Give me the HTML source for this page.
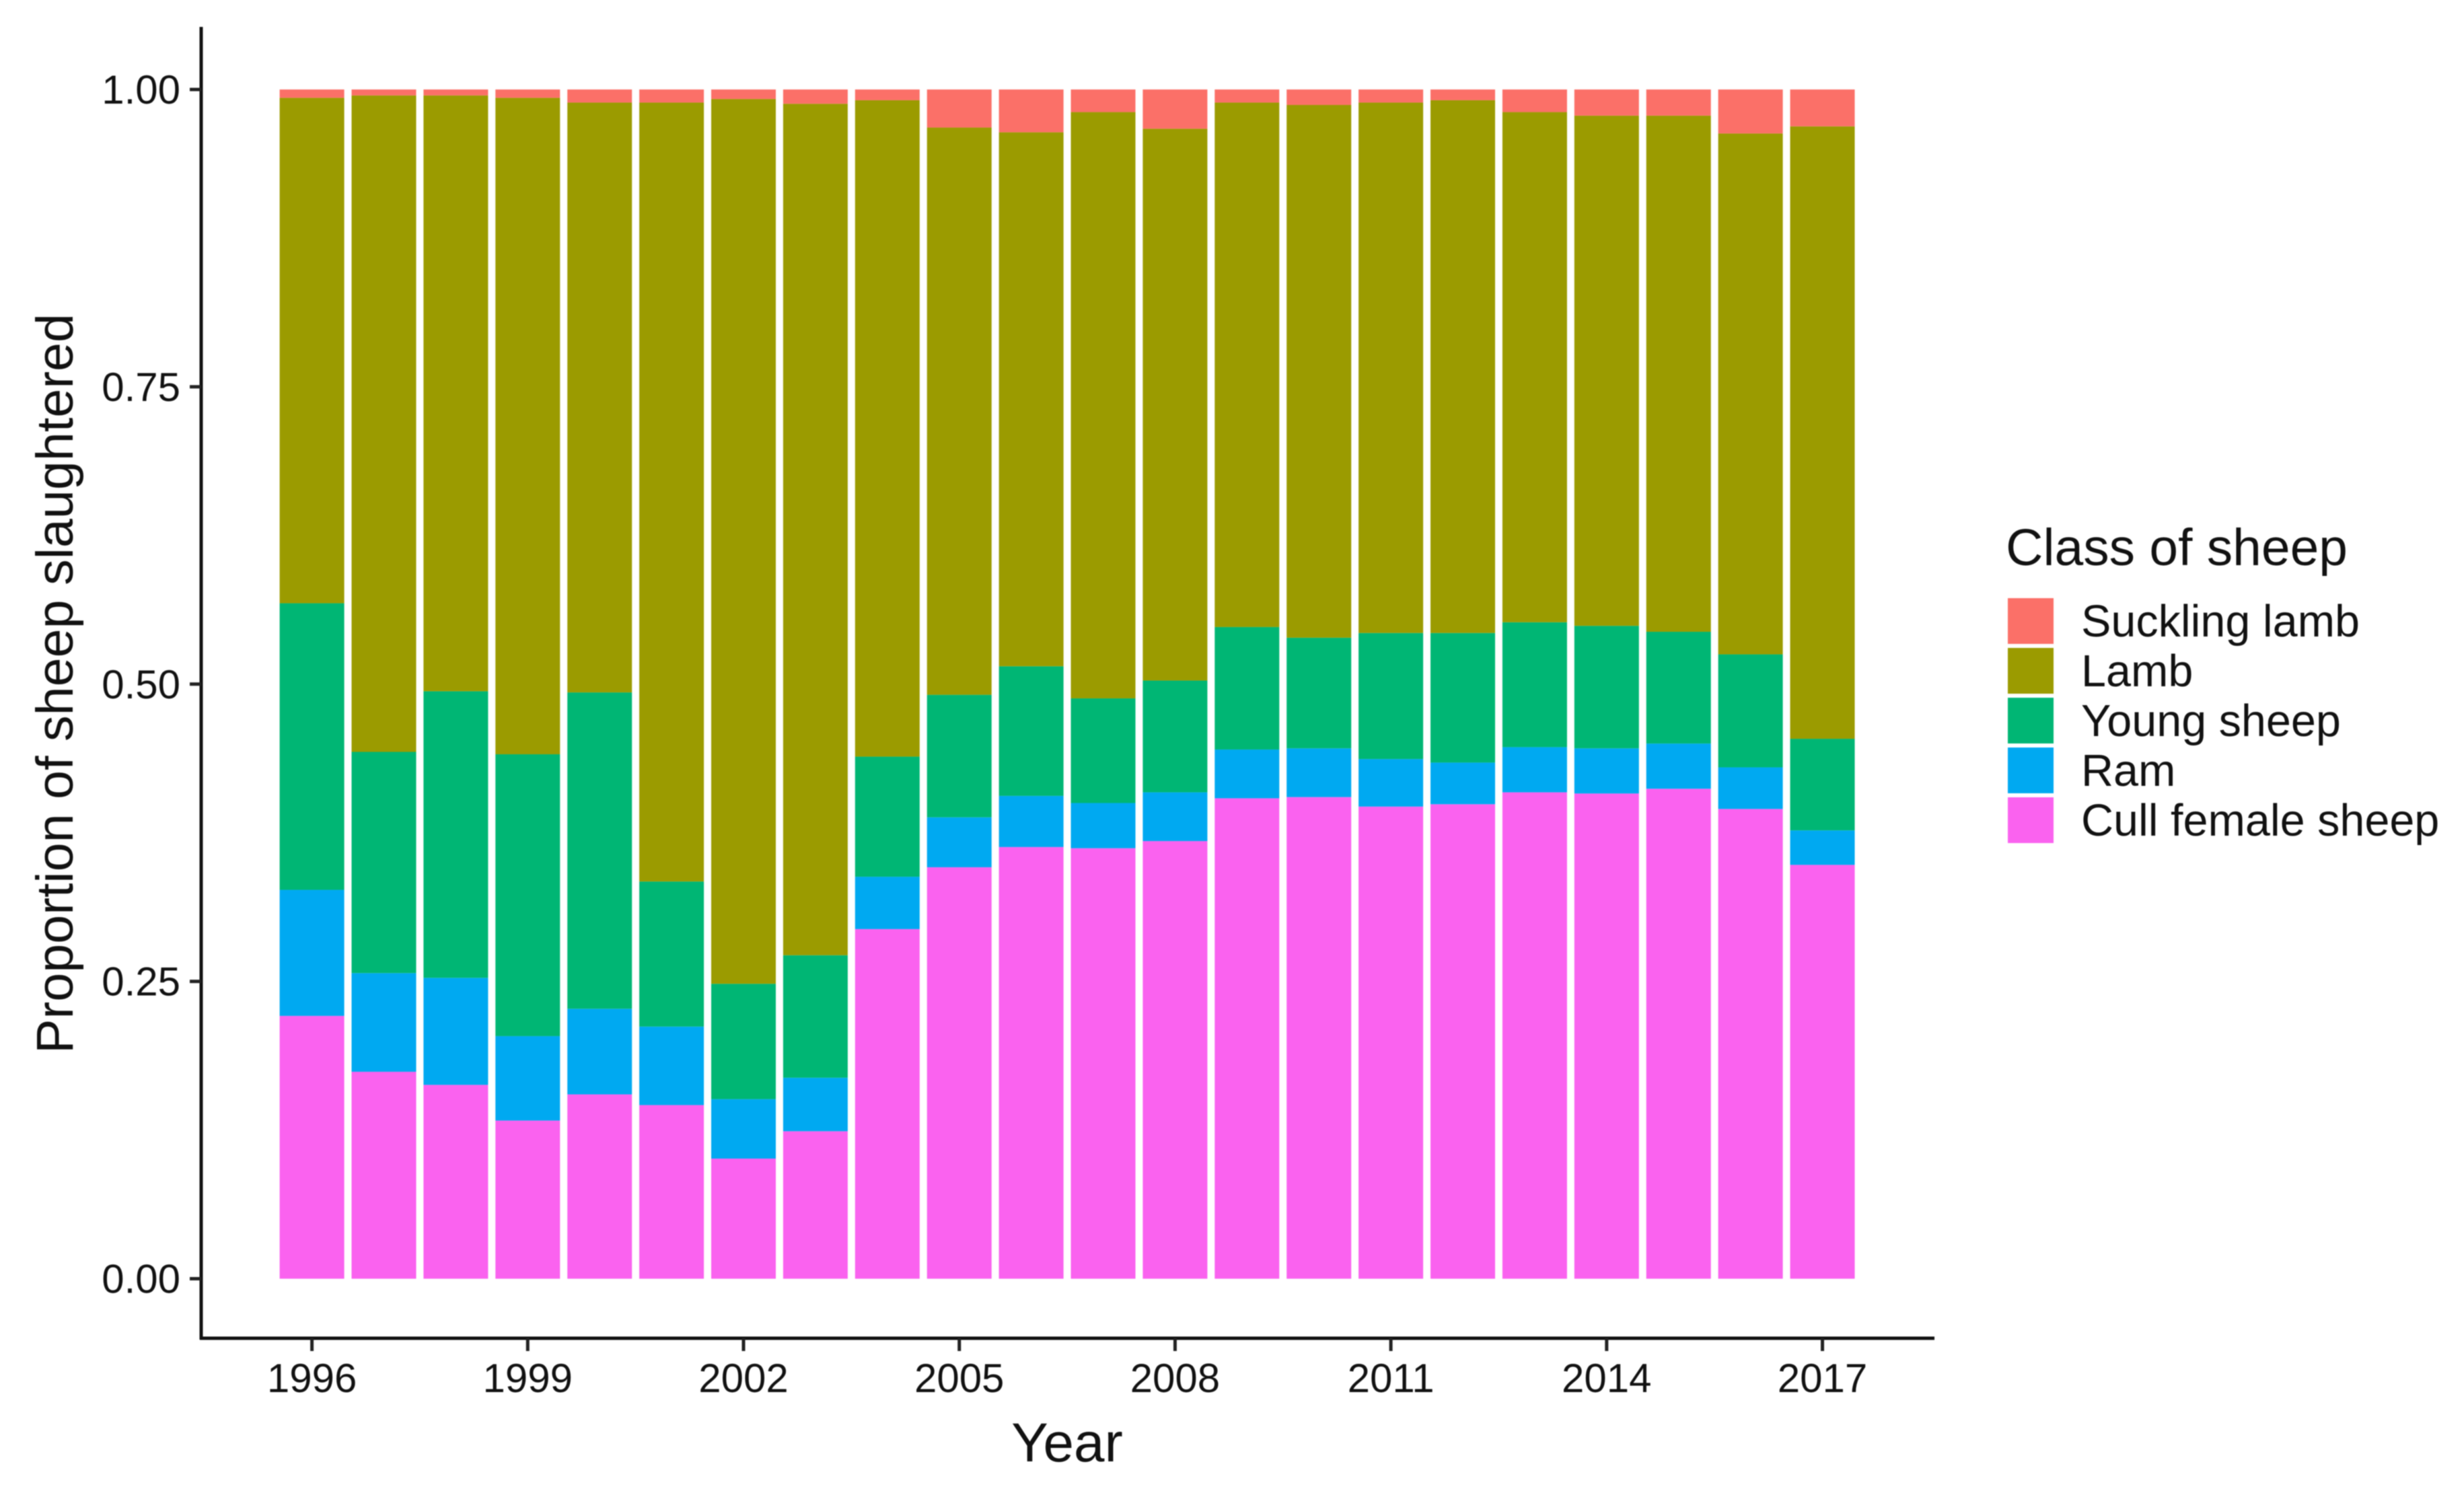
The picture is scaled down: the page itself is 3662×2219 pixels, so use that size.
<!DOCTYPE html>
<html lang="en">
<head>
<meta charset="utf-8">
<title>Proportion of sheep slaughtered by class</title>
<style>
html,body{margin:0;padding:0;background:#fff;}
svg{display:block;filter:blur(0.8px);}
text{font-family:"Liberation Sans",sans-serif;fill:#111;}
</style>
</head>
<body>
<svg id="chart" xmlns="http://www.w3.org/2000/svg" width="3662" height="2219" viewBox="0 0 3662 2219">
<rect x="0" y="0" width="3662" height="2219" fill="#ffffff"/>
<g id="bars"></g>
<g id="axes"></g>
<g id="legend"></g>
</svg>
<script>
const years = [1996,1997,1998,1999,2000,2001,2002,2003,2004,2005,2006,2007,2008,2009,2010,2011,2012,2013,2014,2015,2016,2017];
const cull = [.221,.174,.163,.133,.155,.146,.101,.124,.294,.346,.363,.362,.368,.404,.405,.397,.399,.409,.408,.412,.395,.348];
const ram = [.106,.083,.090,.071,.072,.066,.050,.045,.044,.042,.043,.038,.041,.041,.041,.040,.035,.038,.038,.038,.035,.029];
const young = [.241,.186,.241,.237,.266,.122,.097,.103,.101,.103,.109,.088,.094,.103,.093,.106,.109,.105,.103,.094,.095,.077];
const lamb = [.425,.552,.501,.552,.496,.655,.744,.716,.552,.477,.449,.493,.464,.441,.448,.446,.448,.429,.429,.434,.438,.515];
const suckling = [.007,.005,.005,.007,.011,.011,.008,.012,.009,.032,.036,.019,.033,.011,.013,.011,.009,.019,.022,.022,.037,.031];
const yTicks = ["0.00","0.25","0.50","0.75","1.00"];
const xTicks = ["1996","1999","2002","2005","2008","2011","2014","2017"];
const classNames = ["Suckling lamb","Lamb","Young sheep","Ram","Cull female sheep"];

const NS = "http://www.w3.org/2000/svg";
const classColors = ["#fb7068","#9b9b00","#00b674","#00a9f1","#fa62ef"];
const classSlugs = ["suckling-lamb","lamb","young-sheep","ram","cull-female-sheep"];
const classValues = [suckling, lamb, young, ram, cull];

const xScale = y => 463.6 + (y - 1996) * 106.9;
const yScale = v => 1900.5 - v * 1767.5;
const barWidth = 96;

function make(tag, attrs, parent, txt) {
  const el = document.createElementNS(NS, tag);
  for (const k in attrs) el.setAttribute(k, attrs[k]);
  if (txt !== undefined) el.textContent = txt;
  parent.appendChild(el);
  return el;
}

const barsG = document.getElementById("bars");
const axesG = document.getElementById("axes");
const legendG = document.getElementById("legend");

// stacked bars: bottom class first
years.forEach((yr, i) => {
  let base = 0;
  for (let c = classValues.length - 1; c >= 0; c--) {
    const v = classValues[c][i];
    const top = base + v;
    const r = make("rect", {
      x: xScale(yr) - barWidth / 2,
      y: yScale(top),
      width: barWidth,
      height: yScale(base) - yScale(top),
      fill: classColors[c]
    }, barsG);
    
    
    base = top;
  }
});

// axis lines
const yAxisLine = make("line", {x1: 299, y1: 40, x2: 299, y2: 1991, stroke: "#111", "stroke-width": 5}, axesG);


const xAxisLine = make("line", {x1: 297, y1: 1989, x2: 2875, y2: 1989, stroke: "#111", "stroke-width": 5}, axesG);



// y ticks
yTicks.forEach(t => {
  const py = yScale(parseFloat(t));
  const tick = make("line", {x1: 282, y1: py, x2: 299, y2: py, stroke: "#222", "stroke-width": 5}, axesG);
  
  
  const label = make("text", {x: 268, y: py + 21, "text-anchor": "end", "font-size": 60, fill: "#222"}, axesG, t);
  
  
});

// x ticks
xTicks.forEach(t => {
  const px = xScale(parseFloat(t));
  const tick = make("line", {x1: px, y1: 1989, x2: px, y2: 2008, stroke: "#222", "stroke-width": 5}, axesG);
  
  
  const label = make("text", {x: px, y: 2069, "text-anchor": "middle", "font-size": 60, fill: "#222"}, axesG, t);
  
  
});

// axis titles
const xTitle = make("text", {x: 1586, y: 2172, "text-anchor": "middle", "font-size": 82}, axesG, "Year");


const yTitle = make("text", {x: 0, y: 0, "text-anchor": "middle", "font-size": 77.3, transform: "translate(108 1016) rotate(-90)"}, axesG, "Proportion of sheep slaughtered");



// legend
const legendTitle = make("text", {x: 2981, y: 840, "font-size": 76.8}, legendG, "Class of sheep");


classNames.forEach((n, i) => {
  const sw = make("rect", {x: 2984, y: 889 + i * 74, width: 68, height: 68, fill: classColors[i]}, legendG);
  
  
  const tx = make("text", {x: 3093, y: 946 + i * 74, "font-size": 66.5}, legendG, n);
  
  
});
</script>
</body>
</html>
